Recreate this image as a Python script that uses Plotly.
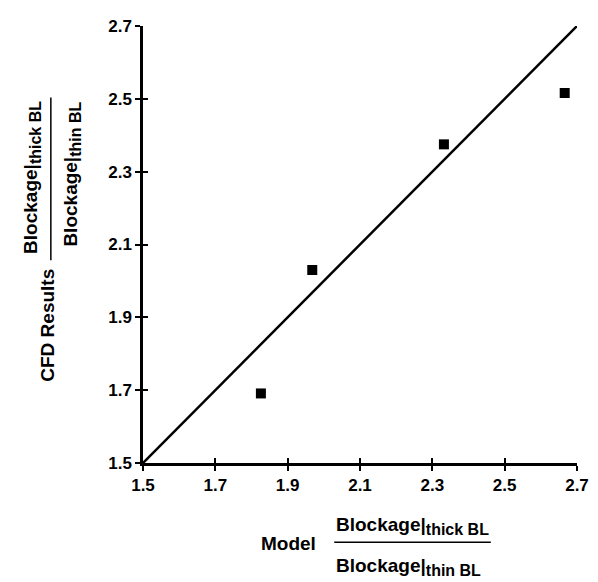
import plotly.graph_objects as go

# Data
model_ratio = [1.826, 1.968, 2.332, 2.666]
cfd_ratio = [1.691, 2.030, 2.375, 2.516]
line_x = [1.5, 2.7]
line_y = [1.5, 2.7]
tick_vals = [1.5, 1.7, 1.9, 2.1, 2.3, 2.5, 2.7]
tick_text = ["1.5", "1.7", "1.9", "2.1", "2.3", "2.5", "2.7"]

FONT = "Liberation Sans, Arial, Helvetica, sans-serif"

# page body has an 8px margin; figure is sized so the plot area lands
# at page x 143..581 and y 17..463
W, H = 590, 574
OFF = 8
PL, PR, PT, PB = 143, 581, 17, 463
PW, PH = PR - PL, PB - PT


def px(xp):
    return (xp - PL) / PW


def py(yp):
    return (PB - yp) / PH


fig = go.Figure()
fig.add_trace(go.Scatter(x=line_x, y=line_y, mode="lines",
                         line=dict(color="black", width=2.5), showlegend=False,
                         hoverinfo="skip", cliponaxis=False))
fig.add_trace(go.Scatter(x=model_ratio, y=cfd_ratio, mode="markers",
                         marker=dict(symbol="square", size=10, color="black"),
                         showlegend=False, cliponaxis=False))
fig.add_trace(go.Scatter(x=[1.5], y=[1.5], xaxis="x2", yaxis="y2", mode="markers",
                         marker=dict(opacity=0), showlegend=False, hoverinfo="skip"))

axis_common = dict(range=[1.5, 2.7], tickvals=tick_vals,
                   ticktext=["<b>%s</b>" % t for t in tick_text],
                   showgrid=False, zeroline=False, showline=True,
                   linecolor="black", linewidth=2.5, ticks="outside",
                   ticklen=5, tickwidth=1.5, tickcolor="black",
                   ticklabeloverflow="allow",
                   tickfont=dict(family=FONT, size=17, color="black"))

fig.update_layout(
    width=W, height=H,
    margin=dict(l=PL - OFF, r=W - (PR - OFF), t=PT - OFF, b=H - (PB - OFF)),
    plot_bgcolor="white", paper_bgcolor="white",
    xaxis=dict(**axis_common),
    yaxis=dict(**axis_common),
    xaxis2=dict(range=[1.5, 2.7], tickvals=tick_vals, overlaying="x",
                showticklabels=False, showgrid=False, zeroline=False,
                showline=False, ticks="inside", ticklen=5, tickwidth=1.5,
                tickcolor="black", side="bottom"),
    yaxis2=dict(range=[1.5, 2.7], tickvals=tick_vals, overlaying="y",
                showticklabels=False, showgrid=False, zeroline=False,
                showline=False, ticks="inside", ticklen=5, tickwidth=1.5,
                tickcolor="black", side="left"),
    font=dict(family=FONT, color="black"),
)

num = "<b>Blockage|<sub><span style='font-size:16px'>thick BL</span></sub></b>"
den = "<b>Blockage|<sub><span style='font-size:16px'>thin BL</span></sub></b>"
tfont = dict(family=FONT, size=19, color="black")

# X-axis title: Model + fraction
fig.add_annotation(text="<b>Model</b>", xref="paper", yref="paper", x=px(290),
                   y=py(545), showarrow=False, font=tfont,
                   xanchor="center", yanchor="middle")
fig.add_annotation(text=num, xref="paper", yref="paper", x=px(336),
                   y=py(527), showarrow=False, font=tfont,
                   xanchor="left", yanchor="middle")
fig.add_annotation(text=den, xref="paper", yref="paper", x=px(336),
                   y=py(569), showarrow=False, font=tfont,
                   xanchor="left", yanchor="middle")
fig.add_shape(type="line", xref="paper", yref="paper",
              x0=px(336), x1=px(494), y0=py(544), y1=py(544),
              line=dict(color="black", width=1.5))

# Y-axis title: CFD Results + fraction (rotated)
fig.add_annotation(text="<b>CFD Results</b>", xref="paper", yref="paper", x=px(47),
                   y=py(322), showarrow=False, textangle=-90, font=tfont,
                   xanchor="center", yanchor="middle")
fig.add_annotation(text=num, xref="paper", yref="paper", x=px(31),
                   y=py(172), showarrow=False, textangle=-90, font=tfont,
                   xanchor="center", yanchor="middle")
fig.add_annotation(text=den, xref="paper", yref="paper", x=px(71),
                   y=py(168), showarrow=False, textangle=-90, font=tfont,
                   xanchor="center", yanchor="middle")
fig.add_shape(type="line", xref="paper", yref="paper",
              x0=px(50), x1=px(50), y0=py(90), y1=py(256),
              line=dict(color="black", width=1.5))

fig.write_html("out.html")
